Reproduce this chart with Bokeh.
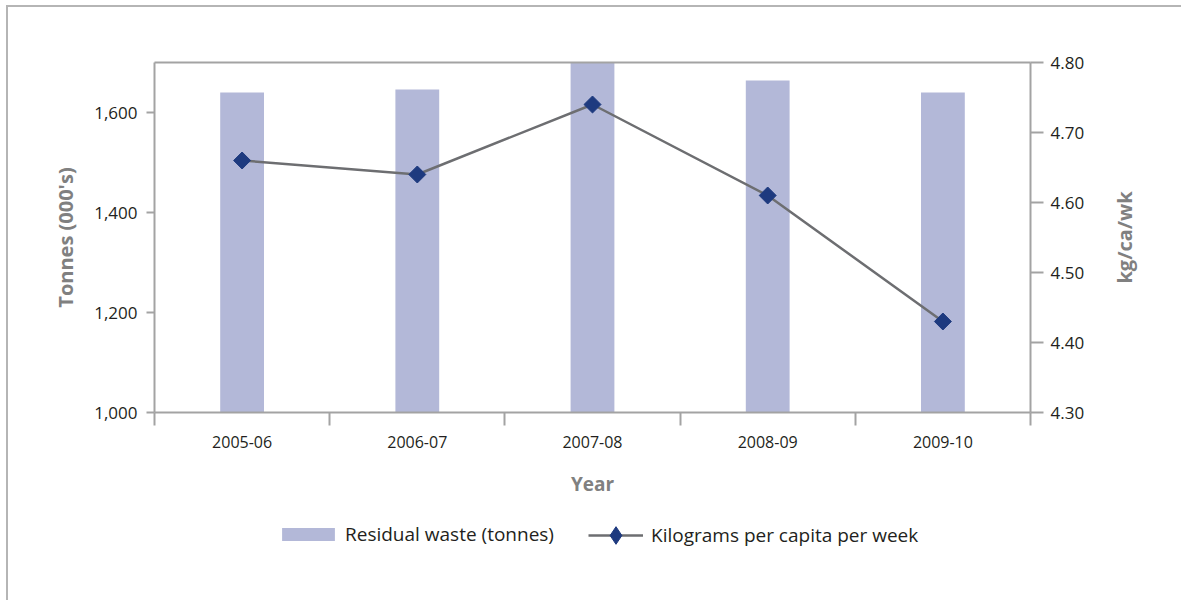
import numpy as np
from bokeh.plotting import figure
from bokeh.models import (LinearAxis, Range1d, FixedTicker, NumeralTickFormatter,
                          Legend, LegendItem, CustomJSTickFormatter, Label)
from bokeh.embed import file_html
from bokeh.resources import INLINE

# ---- data ----
years = ["2005-06", "2006-07", "2007-08", "2008-09", "2009-10"]
residual_tonnes = [1640, 1646, 1700, 1664, 1640]          # thousands of tonnes
kg_per_capita_week = [4.66, 4.64, 4.74, 4.61, 4.43]
left_ticks = [1000, 1200, 1400, 1600]
right_ticks = [4.30, 4.40, 4.50, 4.60, 4.70, 4.80]
left_lim = (1000, 1700)
right_lim = (4.30, 4.80)

n = len(years)
x = list(np.arange(n) + 0.5)
boundaries = list(range(n + 1))

# ---- layout (pixels) ----
FIG_W = 1173                 # frame covers the whole width
PLOT_L, PLOT_W = 146, 876    # value area inside the frame
PLOT_H = 350                 # height of the value area
EXTRA_H = 163                # space under the value area, inside the frame
TOP_H = 20                   # space above the value area, inside the frame
FRAME_H = PLOT_H + EXTRA_H + TOP_H
ux = PLOT_W / n
x_start = -PLOT_L / ux
x_end = n + (FIG_W - PLOT_L - PLOT_W) / ux
ly = (left_lim[1] - left_lim[0]) / PLOT_H
ry = (right_lim[1] - right_lim[0]) / PLOT_H

FONT = "Open Sans"
TEXT = "#231f20"
AXC = "#a3a3a3"
TITLEC = "#808080"
BAR = "#b3b8d8"
LINEC = "#6d6e71"
MARK = "#1e3a7f"

p = figure(frame_width=FIG_W, frame_height=FRAME_H, output_backend="svg", toolbar_location=None,
           x_range=Range1d(x_start, x_end),
           y_range=Range1d(left_lim[0] - EXTRA_H * ly, left_lim[1] + TOP_H * ly),
           min_border_left=0, min_border_top=55 - TOP_H, min_border_right=0,
           min_border_bottom=0, x_axis_location=None, y_axis_location=None)
p.extra_y_ranges = {"kg": Range1d(right_lim[0] - EXTRA_H * ry, right_lim[1] + TOP_H * ry)}
p.xgrid.visible = False
p.ygrid.visible = False
p.outline_line_color = None
p.background_fill_color = "white"
p.border_fill_color = "white"
p.styles = {"border-left": "2px solid #b5b5b5", "border-top": "2px solid #b5b5b5",
            "margin-left": "6px", "margin-top": "5px", "padding-bottom": "40px"}

bars = p.vbar(x=x, top=residual_tonnes, bottom=left_lim[0], width=0.25,
              fill_color=BAR, line_color=None)
ln = p.line(x, kg_per_capita_week, line_color=LINEC, line_width=2.5, y_range_name="kg")
# diamond shape (used by the legend), lying under the rotated squares
dia = p.scatter(x, kg_per_capita_week, marker="diamond", size=14,
                fill_color=MARK, line_color=MARK, y_range_name="kg")
pts = p.scatter(x, kg_per_capita_week, marker="square", angle=np.pi / 4, size=12,
                fill_color=MARK, line_color=MARK, y_range_name="kg")


def style_line(ax):
    ax.axis_line_color = AXC
    ax.axis_line_width = 2


# top border line of the value area
top = LinearAxis(fixed_location=left_lim[1], bounds=(0, n),
                 ticker=FixedTicker(ticks=[], minor_ticks=[]))
style_line(top)
top.major_tick_line_color = None
top.minor_tick_line_color = None
p.add_layout(top, "above")

# x axis (drawn at value 1,000)
xa = LinearAxis(fixed_location=left_lim[0], bounds=(0, n))
xa.ticker = FixedTicker(ticks=x, minor_ticks=boundaries)
xa.formatter = CustomJSTickFormatter(args=dict(labels=years),
                                     code="return labels[Math.floor(tick)];")
style_line(xa)
xa.major_tick_out = 0
xa.major_tick_in = 0
xa.minor_tick_in = 0
xa.minor_tick_out = 13
xa.minor_tick_line_color = AXC
xa.minor_tick_line_width = 2
xa.major_label_text_font = FONT
xa.major_label_text_font_size = "16px"
xa.major_label_text_color = TEXT
xa.major_label_standoff = 10
xa.axis_label = "Year"
xa.axis_label_text_font = FONT
xa.axis_label_text_font_size = "19px"
xa.axis_label_text_font_style = "bold"
xa.axis_label_text_color = TITLEC
xa.axis_label_standoff = 20
p.add_layout(xa, "below")

# left axis
ya = LinearAxis(fixed_location=0, bounds=left_lim,
                ticker=FixedTicker(ticks=left_ticks, minor_ticks=[]),
                formatter=NumeralTickFormatter(format="0,0"))
style_line(ya)
ya.major_tick_out = 8
ya.major_tick_in = 0
ya.major_tick_line_color = AXC
ya.major_tick_line_width = 2
ya.minor_tick_line_color = None
ya.major_label_text_font = FONT
ya.major_label_text_font_size = "17px"
ya.major_label_text_color = TEXT
ya.major_label_standoff = 9
p.add_layout(ya, "left")

# right axis
ra = LinearAxis(y_range_name="kg", fixed_location=n, bounds=right_lim,
                ticker=FixedTicker(ticks=right_ticks, minor_ticks=[]),
                formatter=NumeralTickFormatter(format="0.00"))
style_line(ra)
ra.major_tick_out = 13
ra.major_tick_in = 0
ra.major_tick_line_color = AXC
ra.major_tick_line_width = 2
ra.minor_tick_line_color = None
ra.major_label_text_font = FONT
ra.major_label_text_font_size = "17px"
ra.major_label_text_color = TEXT
ra.major_label_standoff = 7
p.add_layout(ra, "right")

# axis titles
title_y = EXTRA_H + PLOT_H / 2
for txt, sx in [("Tonnes (000's)", PLOT_L - 89), ("kg/ca/wk", PLOT_L + PLOT_W + 94)]:
    p.add_layout(Label(x=sx, y=title_y, x_units="screen", y_units="screen", text=txt,
                       angle=np.pi / 2, text_align="center", text_baseline="middle",
                       text_font=FONT, text_font_size="20px", text_font_style="bold",
                       text_color=TITLEC))

common = dict(orientation="horizontal", padding=0, margin=0, border_line_color=None,
              background_fill_alpha=0, label_text_font=FONT, label_text_font_size="19px",
              label_text_color=TEXT)
leg1 = Legend(items=[LegendItem(label="Residual waste (tonnes)", renderers=[bars])],
              location=(PLOT_L + 121, 28), glyph_width=66, glyph_height=16,
              label_standoff=4, **common)
leg2 = Legend(items=[LegendItem(label="Kilograms per capita per week", renderers=[ln, dia])],
              location=(PLOT_L + 434, 18), glyph_width=55, glyph_height=44,
              label_standoff=8, **common)
p.add_layout(leg1, "center")
p.add_layout(leg2, "center")

open("out.html", "w").write(file_html(p, INLINE))
